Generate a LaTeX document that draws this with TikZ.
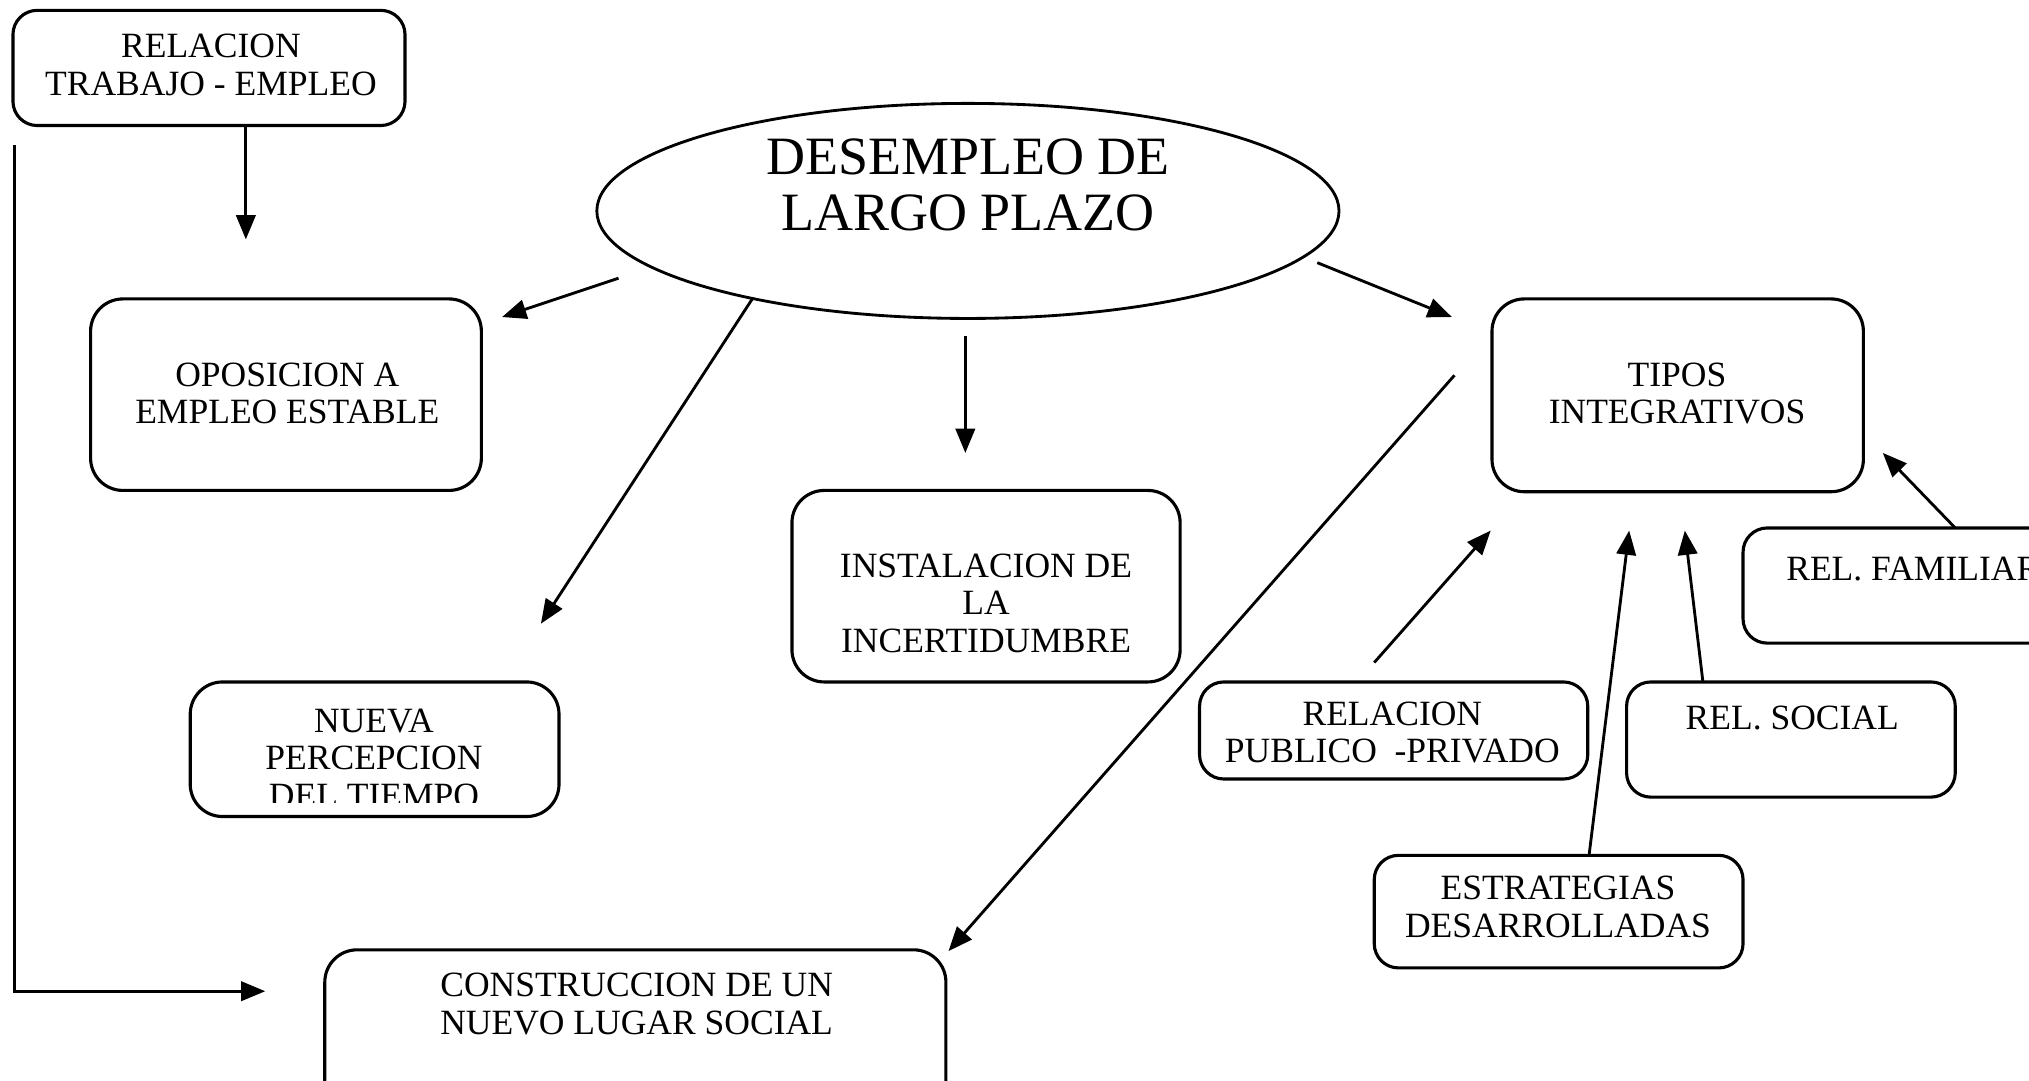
\documentclass[tikz,border=0pt]{standalone}
\usepackage{fontspec}
\setmainfont{Liberation Serif}
\usetikzlibrary{arrows.meta,fit,shapes.geometric}
\tikzset{
  box/.style={draw,line width=1.1pt,rounded corners=#1,inner sep=0pt},
  box/.default=4mm,
  txt/.style={align=center,inner sep=0pt,font=\fontsize{12.5}{13.2}\selectfont},
  arr/.style={line width=1pt,-{Triangle[length=3mm,width=2.4mm]}}
}

\begin{document}
\begin{tikzpicture}[x=0.016cm,y=-0.016cm]
\useasboundingbox (0,0) rectangle (1568,835);
\clip (0,0) rectangle (1568,835);

\node[draw,ellipse,line width=1pt,inner sep=0pt,minimum width=9.18cm,minimum height=2.66cm] (dlp) at (748,163) {};
\node[align=center,inner sep=0pt,font=\fontsize{19}{19.6}\selectfont] (dlp-t) at (748,143) {DESEMPLEO DE\\LARGO PLAZO};

\node[box=3mm,fit={(10,8) (313,97)}] (rte) {};
\node[box,fit={(70,231) (372,379)}] (opos) {};
\node[box,fit={(147,527) (432,631)}] (npt) {};
\node[box,fit={(612,379) (912,527)}] (inst) {};
\node[box,fit={(251,734) (731,870)}] (cons) {};
\node[box,fit={(1153,231) (1440,380)}] (tipos) {};
\node[box=3mm,fit={(927,527) (1227,602)}] (rpp) {};
\node[box=3mm,fit={(1257,527) (1511,616)}] (rsoc) {};
\node[box=3mm,fit={(1062,661) (1347,748)}] (estr) {};
\node[box=3mm,fit={(1347,408) (1640,497)}] (rfam) {};

\node[txt] (rte-t) at (163,50) {RELACION\\TRABAJO - EMPLEO};
\node[txt] (opos-t) at (222,304) {OPOSICION A\\EMPLEO ESTABLE};
\node[txt] (inst-t) at (762,466) {INSTALACION DE\\LA\\INCERTIDUMBRE};
\node[txt] (cons-t) at (492,776) {CONSTRUCCION DE UN\\NUEVO LUGAR SOCIAL};
\node[txt] (tipos-t) at (1296,304) {TIPOS\\INTEGRATIVOS};
\node[txt] (rpp-t) at (1076,566) {RELACION\\PUBLICO~~-PRIVADO};
\node[txt] (rsoc-t) at (1385,555) {REL. SOCIAL};
\node[txt] (estr-t) at (1204,701) {ESTRATEGIAS\\DESARROLLADAS};
\node[txt,anchor=west] (rfam-t) at (1380,440) {REL. FAMILIAR};
\begin{scope}
\clip (147,527) rectangle (432,620);
\node[txt] (npt-t) at (289,586) {NUEVA\\PERCEPCION\\DEL TIEMPO};
\end{scope}

\foreach \n/\x/\y in {a1/190/97,a2/190/185,b1/478/215,b2/388/245,c1/582/230,c2/418/482,
  d1/746/260,d2/746/350,e1/1018/203,e2/1122/245,f1/1124/290,f2/733/735,
  g1/1062/512,g2/1152/410,h1/1228/661,h2/1259/410,i1/1316/527,i2/1302/410,
  j1/1511/408,j2/1455/350,k1/11/112,k2/205/766}
  \coordinate (\n) at (\x,\y);

\foreach \s/\t in {a1/a2,b1/b2,c1/c2,d1/d2,e1/e2,f1/f2,g1/g2,h1/h2,i1/i2,j1/j2}
  \draw[arr] (\s) -- (\t);
\draw[arr] (k1) |- (k2);

\end{tikzpicture}
\end{document}
